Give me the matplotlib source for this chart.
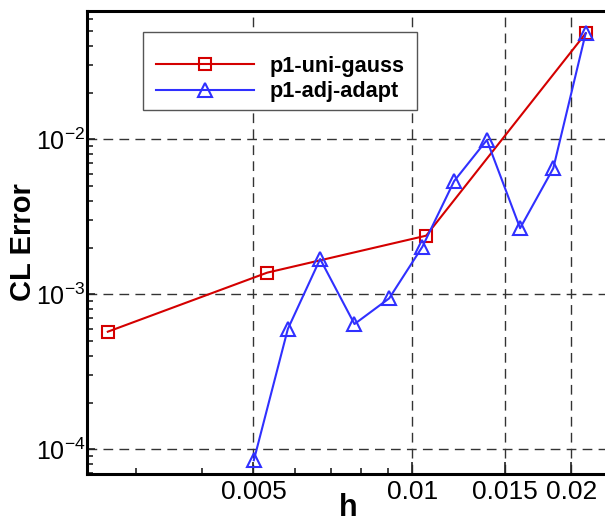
import matplotlib
matplotlib.use('Agg')

import numpy as np
import matplotlib.pyplot as plt
from matplotlib.patches import Rectangle
from matplotlib.ticker import FixedLocator, LogLocator, NullFormatter, FixedFormatter

plt.rcParams['font.family'] = ['Liberation Sans', 'DejaVu Sans']
plt.rcParams['mathtext.fontset'] = 'custom'
plt.rcParams['mathtext.rm'] = 'Liberation Sans'
plt.rcParams['mathtext.it'] = 'Liberation Sans'

# Data
h_uni = [0.00265, 0.00531, 0.01062, 0.0213]
err_uni = [5.74e-4, 1.38e-3, 2.39e-3, 4.83e-2]

h_adapt = [0.00501, 0.00581, 0.00669, 0.00777, 0.00904, 0.01045,
           0.0120, 0.01384, 0.0160, 0.01849, 0.0213]
err_adapt = [8.5e-5, 5.97e-4, 1.69e-3, 6.43e-4, 9.42e-4, 2.03e-3,
             5.38e-3, 9.9e-3, 2.67e-3, 6.5e-3, 4.85e-2]

x_ticks = [0.005, 0.01, 0.015, 0.02]
x_ticklabels = ['0.005', '0.01', '0.015', '0.02']
y_ticks = [1e-4, 1e-3, 1e-2]
y_ticklabels = [r'$10^{-4}$', r'$10^{-3}$', r'$10^{-2}$']

fig = plt.figure(figsize=(6.05, 5.19), dpi=100)
W, H = 605.0, 519.0
left, right, top, bottom = 86.7, 610.0, 11.0, 474.0
aw, ah = right - left, bottom - top
ax = fig.add_axes([left / W, 1 - bottom / H, aw / W, ah / H])


def px(x, y):
    # figure pixels (from top-left) -> axes fraction
    return (x - left) / aw, (bottom - y) / ah


red = '#d40000'
blue = '#3030ff'

ax.plot(h_uni, err_uni, color=red, lw=1.5, marker='s', ms=8.4,
        mfc='none', mec=red, mew=1.5, label='p1-uni-gauss', zorder=3)
ax.plot(h_adapt, err_adapt, color=blue, lw=1.5, marker='^', ms=10.5,
        mfc='none', mec=blue, mew=1.5, label='p1-adj-adapt', zorder=3)

ax.set_xscale('log')
ax.set_yscale('log')
ax.set_xlim(0.002417, 0.02368)
ax.set_ylim(6.93e-5, 0.0673)

ax.xaxis.set_major_locator(FixedLocator(x_ticks))
ax.xaxis.set_major_formatter(FixedFormatter(x_ticklabels))
ax.xaxis.set_minor_locator(LogLocator(base=10, subs=np.arange(2, 10)))
ax.xaxis.set_minor_formatter(NullFormatter())
ax.yaxis.set_major_locator(FixedLocator(y_ticks))
ax.yaxis.set_major_formatter(FixedFormatter(y_ticklabels))
ax.yaxis.set_minor_locator(LogLocator(base=10, subs=np.arange(2, 10)))
ax.yaxis.set_minor_formatter(NullFormatter())

ax.tick_params(which='both', direction='in', top=False, right=False,
               color='#222222', width=1.2)
ax.tick_params(axis='x', which='major', length=9, labelsize=19, pad=4)
ax.tick_params(axis='y', which='major', length=6, labelsize=18, pad=1)
ax.tick_params(which='minor', length=4.5)

ax.grid(True, which='major', color='#333333', lw=1.0, ls=(0, (7, 4.5)))

for side in ['left', 'bottom', 'top']:
    ax.spines[side].set_linewidth(2.2)
ax.spines['right'].set_visible(False)

ax.set_xlabel('h', fontsize=22, fontweight='bold')
ax.xaxis.set_label_coords(0.5, -0.04)
ax.set_ylabel('CL Error', fontsize=21, fontweight='bold')
ax.yaxis.set_label_coords(-0.095, 0.5)

# legend: frameless content plus a plain box drawn around it
leg = ax.legend(loc='upper left', bbox_to_anchor=px(156, 56),
                borderaxespad=0, prop={'weight': 'bold', 'size': 15.6},
                handlelength=4.5, handletextpad=0.74, labelspacing=0.19,
                borderpad=0, frameon=False)
leg.set_zorder(6)
x0, y0 = px(143, 110)
x1, y1 = px(417, 32)
ax.add_patch(Rectangle((x0, y0), x1 - x0, y1 - y0, transform=ax.transAxes,
                       facecolor='white', edgecolor='#555555', lw=1.0, zorder=5))

fig.savefig('out.png', dpi=100)
